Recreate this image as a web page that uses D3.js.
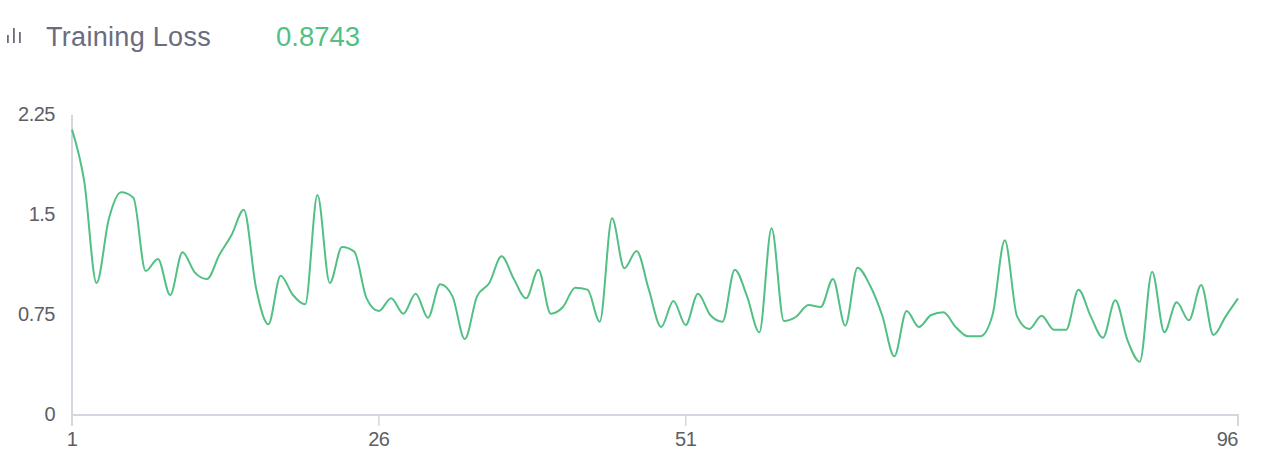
<!DOCTYPE html>
<html lang="en">
  <head>
    <meta charset="utf-8">
    <title>Training Loss</title>
    <script src="https://cdnjs.cloudflare.com/ajax/libs/d3/7.8.5/d3.min.js"></script>
    <style type="text/css">
      html, body { margin: 0; padding: 0; background: #fff; }
      svg { display: block; }
    </style>
  </head>
  <body>
    <script type="text/javascript">
    var epochs = d3.range(1, 97);
    var loss = [
      2.14, 1.75, 0.99, 1.47, 1.67, 1.63, 1.08, 1.17, 0.90, 1.22,
      1.07, 1.02, 1.20, 1.35, 1.54, 0.95, 0.68, 1.045, 0.90, 0.83,
      1.65, 0.99, 1.26, 1.225, 0.875, 0.78, 0.875, 0.76, 0.91, 0.73,
      0.98, 0.89, 0.57, 0.89, 0.99, 1.19, 1.02, 0.875, 1.09, 0.76,
      0.81, 0.955, 0.94, 0.70, 1.475, 1.10, 1.23, 0.94, 0.66, 0.855,
      0.675, 0.91, 0.75, 0.70, 1.09, 0.89, 0.62, 1.40, 0.705, 0.737,
      0.825, 0.81, 1.02, 0.67, 1.105, 0.975, 0.75, 0.44, 0.78, 0.66,
      0.75, 0.77, 0.66, 0.59, 0.59, 0.75, 1.31, 0.74, 0.645, 0.745,
      0.64, 0.64, 0.94, 0.74, 0.58, 0.86, 0.56, 0.40, 1.075, 0.62,
      0.845, 0.71, 0.975, 0.60, 0.74, 0.8743
    ];
    var xTicks = [1, 26, 51, 96];
    var yTicks = [0, 0.75, 1.5, 2.25];
    var title = "Training Loss";
    var lastValue = "0.8743";
    var iconBars = [8, 15, 11];

    //Width and height
    var w = 1284;
    var h = 462;
    var font = "'Liberation Sans', Inter, sans-serif";
    var axisColor = "#d6d6e0";
    var labelColor = "#5e5e66";
    var green = "#52c084";

    var svg = d3.select("body")
                .append("svg")
                .attr("width", w)
                .attr("height", h);

    var x = d3.scaleLinear().domain([1, 96]).range([72, 1238]);
    var y = d3.scaleLinear().domain([0, 2.25]).range([415, 115]);

    // header
    var iconX = d3.scaleBand().domain(d3.range(iconBars.length)).range([5, 23]);
    var iconY = d3.scaleLinear().domain([0, 15]).range([43, 28]);
    svg.selectAll("rect.icon")
       .data(iconBars)
       .enter()
       .append("rect")
       .attr("class", "icon")
       .attr("x", function(d, i) { return iconX(i) + 2; })
       .attr("y", function(d) { return iconY(d); })
       .attr("width", 1.8)
       .attr("height", function(d) { return 43 - iconY(d); })
       .attr("fill", "#6c6c80");

    svg.append("text")
       .attr("x", 46)
       .attr("y", 45.5)
       .attr("font-family", font)
       .attr("font-size", "27px")
       .attr("letter-spacing", "0.3px")
       .attr("fill", "#6c6c80")
       .text(title);

    svg.append("text")
       .attr("x", 276)
       .attr("y", 45.5)
       .attr("font-family", font)
       .attr("font-size", "27.5px")
       .attr("letter-spacing", "0px")
       .attr("fill", green)
       .text(lastValue);

    // axes
    var xAxis = svg.append("g")
       .attr("transform", "translate(0," + y(0) + ")")
       .call(d3.axisBottom(x).offset(0).tickValues(xTicks).tickSize(11).tickPadding(6).tickFormat(d3.format("d")));

    var yAxis = svg.append("g")
       .attr("transform", "translate(" + x(1) + ",0)")
       .call(d3.axisLeft(y).offset(0).tickValues(yTicks).tickSize(0).tickPadding(17).tickFormat(function(d) { return String(d); }));

    [xAxis, yAxis].forEach(function(g) {
      g.selectAll("path").attr("stroke", axisColor).attr("stroke-width", 2);
      g.selectAll("line").attr("stroke", axisColor).attr("stroke-width", 1.5);
      g.selectAll("text")
       .attr("font-family", font)
       .attr("font-size", "20px")
       .attr("letter-spacing", "-0.5px")
       .attr("fill", labelColor);
    });

    // last label sits inside the plot edge
    xAxis.selectAll("text")
       .attr("text-anchor", function(d) { return d === 96 ? "end" : "middle"; });

    // loss line
    var line = d3.line()
       .x(function(d, i) { return x(epochs[i]); })
       .y(function(d) { return y(d); })
       .curve(d3.curveMonotoneX);

    svg.append("path")
       .datum(loss)
       .attr("d", line)
       .attr("fill", "none")
       .attr("stroke", green)
       .attr("stroke-width", 2);
    </script>
  </body>
</html>
